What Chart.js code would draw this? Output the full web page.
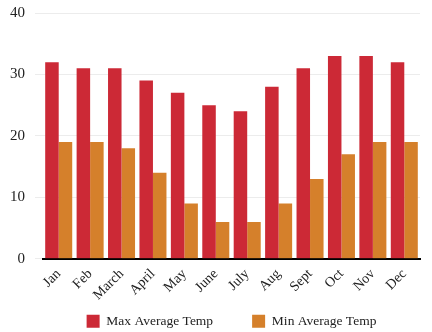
<!DOCTYPE html>
<html>
<head>
<meta charset="utf-8">
<script src="https://cdn.jsdelivr.net/npm/chart.js@4/dist/chart.umd.min.js"></script>
<style>
  html, body { margin: 0; padding: 0; background: #fff; }
  #wrap { width: 432px; height: 332px; }
</style>
</head>
<body>
<div id="wrap"><canvas id="tempChart"></canvas></div>
<script>
'use strict';

const months = ['Jan', 'Feb', 'March', 'April', 'May', 'June', 'July', 'Aug', 'Sept', 'Oct', 'Nov', 'Dec'];
const maxTemps = [32, 31, 31, 29, 27, 25, 24, 28, 31, 33, 33, 32];
const minTemps = [19, 19, 18, 14, 9, 6, 6, 9, 13, 17, 19, 19];
const yTicks = [0, 10, 20, 30, 40];

Chart.defaults.font.family = 'Liberation Serif';
Chart.defaults.font.size = 15;
Chart.defaults.color = '#222';

const ctx = document.getElementById('tempChart').getContext('2d');
new Chart(ctx, {
  type: 'bar',
  data: {
    labels: months,
    datasets: [
      {
        label: 'Max Average Temp',
        data: maxTemps,
        backgroundColor: '#cc2936',
        categoryPercentage: 0.86,
        barPercentage: 1,
      },
      {
        label: 'Min Average Temp',
        data: minTemps,
        backgroundColor: '#d5802b',
        categoryPercentage: 0.86,
        barPercentage: 1,
      },
    ],
  },
  options: {
    responsive: true,
    maintainAspectRatio: false,
    animation: false,
    layout: { padding: { top: 0, right: 12, left: 0, bottom: -6 } },
    plugins: {
      legend: {
        position: 'bottom',
        fullSize: false,
        labels: {
          boxWidth: 13,
          boxHeight: 13,
          padding: 12,
          color: '#222',
          font: { size: 13.5 },
          // wider gap after the first entry
          generateLabels: chart => {
            const items = Chart.defaults.plugins.legend.labels.generateLabels(chart);
            items[0].text += '\u00a0'.repeat(8);
            return items;
          },
        },
      },
      tooltip: { enabled: false },
    },
    scales: {
      x: {
        grid: { display: false },
        border: { color: '#000', width: 2 },
        ticks: {
          maxRotation: 45,
          minRotation: 45,
          color: '#222',
          padding: 0,
          font: { size: 14, lineHeight: 1 },
        },
      },
      y: {
        min: 0,
        max: 40,
        afterBuildTicks: axis => {
          axis.ticks = yTicks.map(v => ({ value: v }));
        },
        // keep the top gridline close to the canvas edge
        afterFit: axis => {
          axis.paddingTop = 13;
        },
        border: { display: false },
        grid: { color: '#ececec' },
        ticks: { padding: 10, color: '#222', font: { lineHeight: 1 } },
      },
    },
  },
});
</script>
</body>
</html>
